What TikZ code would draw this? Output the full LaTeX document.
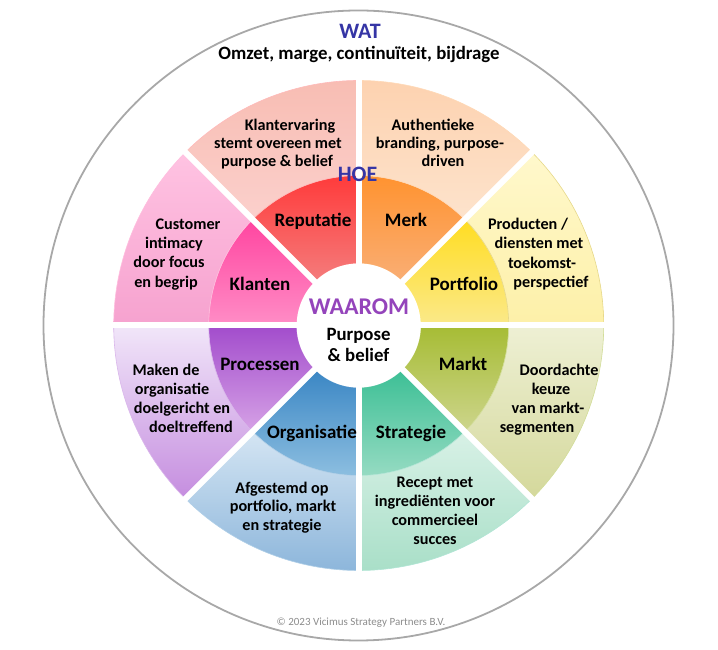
\documentclass[tikz,border=0pt]{standalone}
\usepackage{fontspec}
\setmainfont{Carlito}
\definecolor{titleblue}{HTML}{3535A5}
\definecolor{waarom}{HTML}{9444BB}
\definecolor{ringgray}{HTML}{A8A8A8}
\definecolor{copygray}{HTML}{8C8C8C}
\definecolor{repT}{HTML}{FF3B3B}\definecolor{repB}{HTML}{F47C7C}
\definecolor{repOT}{HTML}{F8BDB3}\definecolor{repOB}{HTML}{FBD0CC}
\definecolor{merkT}{HTML}{FF9330}\definecolor{merkB}{HTML}{F9AE75}
\definecolor{merkOT}{HTML}{FDD2B0}\definecolor{merkOB}{HTML}{FDE3CC}
\definecolor{portT}{HTML}{FFDD22}\definecolor{portB}{HTML}{FBE98A}
\definecolor{portOT}{HTML}{FFF8CC}\definecolor{portOB}{HTML}{FDF0A8}
\definecolor{marT}{HTML}{A6BC34}\definecolor{marB}{HTML}{CDD58C}
\definecolor{marOT}{HTML}{EEF0D4}\definecolor{marOB}{HTML}{D4D89B}
\definecolor{strT}{HTML}{3CBF95}\definecolor{strB}{HTML}{95DBC2}
\definecolor{strOT}{HTML}{D8F1E6}\definecolor{strOB}{HTML}{A9DFC8}
\definecolor{orgT}{HTML}{3A86C4}\definecolor{orgB}{HTML}{8CBEE0}
\definecolor{orgOT}{HTML}{D4E5F3}\definecolor{orgOB}{HTML}{8DB6DB}
\definecolor{proT}{HTML}{A24CCC}\definecolor{proB}{HTML}{D6A2E6}
\definecolor{proOT}{HTML}{F1E6F9}\definecolor{proOB}{HTML}{C58DDF}
\definecolor{klaT}{HTML}{FF45A0}\definecolor{klaB}{HTML}{FF8DC6}
\definecolor{klaOT}{HTML}{FFC3E2}\definecolor{klaOB}{HTML}{F6A2CF}
% #1 start angle, #2 inner radius, #3 outer radius, #4 top colour, #5 bottom colour, #6 border
\newcommand\wheelsector[6]{%
  \path[top color=#4, bottom color=#5, draw=#6, line width=0.6pt]
    (#1:#2) -- (#1:#3) arc[start angle=#1, end angle={#1+45}, radius=#3]
    -- ({#1+45}:#2) arc[start angle={#1+45}, end angle=#1, radius=#2] -- cycle;}
\begin{document}
\begin{tikzpicture}[x=1pt,y=1pt,
  lab/.style={font=\fontsize{19}{22}\selectfont\bfseries, inner sep=0pt, anchor=base},
  txt/.style={font=\fontsize{16.2}{19}\selectfont\bfseries, inner sep=0pt, anchor=base},
  ttl/.style={font=\fontsize{22}{26}\selectfont\bfseries, text=titleblue, inner sep=0pt, anchor=base}]
\useasboundingbox (0,0) rectangle (718,650);
% outer circle
\draw[ringgray, line width=1.8pt] (358.5,324.5) circle (315);
\begin{scope}[shift={(358.7,324.5)}]
  % inner ring
  \wheelsector{90}{62}{150}{repT}{repB}{repT!60}
  \wheelsector{45}{62}{150}{merkT}{merkB}{merkT!60}
  \wheelsector{0}{62}{150}{portT}{portB}{portT!60}
  \wheelsector{-45}{62}{150}{marT}{marB}{marT!60}
  \wheelsector{-90}{62}{150}{strT}{strB}{strT!60}
  \wheelsector{-135}{62}{150}{orgT}{orgB}{orgT!60}
  \wheelsector{180}{62}{150}{proT}{proB}{proT!60}
  \wheelsector{135}{62}{150}{klaT}{klaB}{klaT!60}
  % outer ring
  \wheelsector{90}{150}{245}{repOT}{repOB}{repT!35}
  \wheelsector{45}{150}{245}{merkOT}{merkOB}{merkT!35}
  \wheelsector{0}{150}{245}{portOT}{portOB}{portT!55!black!20!portOB}
  \wheelsector{-45}{150}{245}{marOT}{marOB}{marT!50}
  \wheelsector{-90}{150}{245}{strOT}{strOB}{strT!40}
  \wheelsector{-135}{150}{245}{orgOT}{orgOB}{orgT!40}
  \wheelsector{180}{150}{245}{proOT}{proOB}{proT!40}
  \wheelsector{135}{150}{245}{klaOT}{klaOB}{klaT!35}
  % white gaps
  \foreach \a in {0,45,...,315}
    \draw[white, line width=6pt] (0,0) -- (\a:252);
  \fill[white] (0,0) circle (62);
\end{scope}
% titles
\node[ttl] (wat) at (360,611) {WAT};
\node[font=\fontsize{18.8}{22}\selectfont\bfseries, inner sep=0pt, anchor=base] (wattxt) at (359,590.5) {Omzet, marge, continuïteit, bijdrage};
\node[ttl] (hoe) at (357.5,468) {HOE};
\node[ttl, text=waarom, font=\fontsize{24}{27}\selectfont\bfseries] (waarom) at (359,335) {WAAROM};
\node[lab, font=\fontsize{18.8}{22}\selectfont\bfseries] (purp1) at (358.5,309) {Purpose};
\node[lab, font=\fontsize{18.8}{22}\selectfont\bfseries] (purp2) at (358.5,288.5) {\& belief};
% inner labels
\node[lab] (lrep) at (313,423.3) {Reputatie};
\node[lab] (lmerk) at (406,423.3) {Merk};
\node[lab] (lkla) at (260,359) {Klanten};
\node[lab] (lport) at (464,359) {Portfolio};
\node[lab] (lpro) at (260,279.3) {Processen};
\node[lab] (lmar) at (463,279.3) {Markt};
\node[lab] (lorg) at (312,211.7) {Organisatie};
\node[lab] (lstr) at (411,211.7) {Strategie};
% outer texts
\node[txt] (rep1) at (290,519.3) {Klantervaring};
\node[txt] (rep2) at (278,501) {stemt overeen met};
\node[txt] (rep3) at (277,483) {purpose \& belief};
\node[txt] (merk1) at (433,519.3) {Authentieke};
\node[txt] (merk2) at (440,501) {branding, purpose-};
\node[txt] (merk3) at (443,483) {driven};
\node[txt] (port1) at (528,420.7) {Producten /};
\node[txt] (port2) at (539,401.7) {diensten met};
\node[txt] (port3) at (542,381.7) {toekomst-};
\node[txt] (port4) at (551,362.7) {perspectief};
\node[txt] (kla1) at (188,420.7) {Customer};
\node[txt] (kla2) at (174,401.7) {intimacy};
\node[txt] (kla3) at (169,382.7) {door focus};
\node[txt] (kla4) at (166,362.7) {en begrip};
\node[txt] (pro1) at (166,274) {Maken de};
\node[txt] (pro2) at (172,255) {organisatie};
\node[txt] (pro3) at (182,236) {doelgericht en};
\node[txt] (pro4) at (191,217) {doeltreffend};
\node[txt] (mar1) at (559,274) {Doordachte};
\node[txt] (mar2) at (551,255) {keuze};
\node[txt] (mar3) at (548,236) {van markt-};
\node[txt] (mar4) at (537,217) {segmenten};
\node[txt] (org1) at (282,156.7) {Afgestemd op};
\node[txt] (org2) at (283,138.3) {portfolio, markt};
\node[txt] (org3) at (282,119.3) {en strategie};
\node[txt] (str1) at (435,162.7) {Recept met};
\node[txt] (str2) at (435,143.3) {ingrediënten voor};
\node[txt] (str3) at (435,124.3) {commercieel};
\node[txt] (str4) at (435,105) {succes};
% copyright
\node[font=\fontsize{11}{13}\selectfont, text=copygray, inner sep=0pt, anchor=base] (copy) at (361,24) {© 2023 Vicimus Strategy Partners B.V.};
\end{tikzpicture}
\end{document}
